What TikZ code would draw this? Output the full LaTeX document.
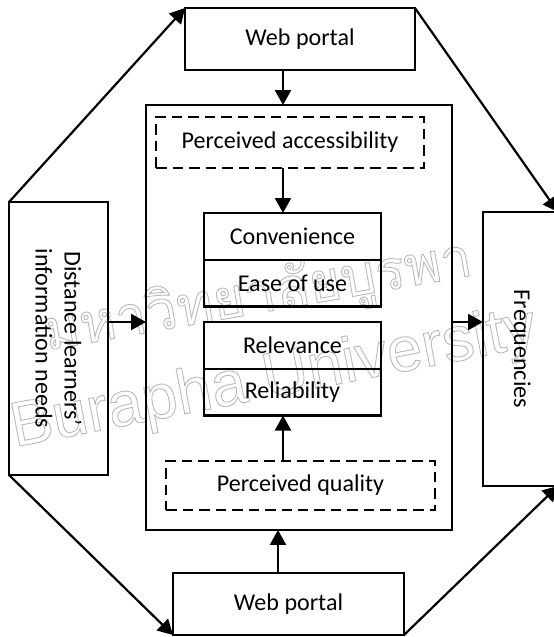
\documentclass[tikz,border=0pt]{standalone}
\usepackage{fontspec}
\setmainfont{Carlito}
\newfontfamily\thaifont[Script=Thai]{Loma}
\newfontfamily\markfont{Liberation Sans}
\usetikzlibrary{arrows.meta,positioning}
\newcommand{\hollowtext}[1]{\special{pdf:literal direct 1 Tr 0.5 w}#1\special{pdf:literal direct 0 Tr}}

\begin{document}
\begin{tikzpicture}[
    x=0.02cm, y=-0.02cm,
    box/.style={rectangle, draw, line width=1.25pt, inner sep=0pt, outer sep=0pt, font=\fontsize{13.7}{18.5}\selectfont},
    dashbox/.style={box, dash pattern=on 0.21cm off 0.12cm},
    factor/.style={box, minimum width=3.54cm, minimum height=0.935cm},
    arrow/.style={-{Triangle[length=0.3cm, width=0.32cm]}, line width=1.25pt},
    stamp/.style={text=black!28, inner sep=0pt}
  ]
    \useasboundingbox (0,0) rectangle (554,637);

    % Watermark
    \node[stamp, font=\thaifont\fontsize{31.5}{31.5}\selectfont, rotate=10] (thaimark) at (258,298) {\hollowtext{มหาวิทยาลัยบูรพา}};
    \node[stamp, font=\markfont\fontsize{36}{36}\selectfont, rotate=11] (engmark) at (274,380) {\hollowtext{Burapha University}};

    % Web portals
    \node[box, minimum width=4.6cm, minimum height=1.24cm] (webtop) at (300,39) {Web portal};
    \node[box, minimum width=4.62cm, minimum height=1.24cm] (webbot) at (288.5,604) {Web portal};

    % Central block
    \node[box, minimum width=6.12cm, minimum height=8.5cm] (core) at (299,317.5) {};
    \node[dashbox, minimum width=5.36cm, minimum height=1.02cm] (access) at (290,142.5) {Perceived accessibility};
    \node[factor] (conv) at (292.5,236.4) {Convenience};
    \node[factor, below=0pt of conv] (ease) {Ease of use};
    \node[factor] (rel) at (292.5,345.4) {Relevance};
    \node[factor, below=0pt of rel] (reli) {Reliability};
    \node[dashbox, minimum width=5.38cm, minimum height=0.98cm] (quality) at (300.5,485.5) {Perceived quality};

    % Side blocks
    \node[box, minimum width=1.98cm, minimum height=5.46cm,
      label={[rotate=-90, align=center, font=\fontsize{13.7}{16.5}\selectfont]center:Distance learners’\\information needs}] (needs) at (58.5,338.5) {};
    \node[box, minimum width=1.5cm, minimum height=5.48cm,
      label={[rotate=-90, font=\fontsize{13.7}{16.5}\selectfont]center:Frequencies}] (freq) at (520.5,349) {};

    % Arrows
    \coordinate (axis) at (283,0);
    \coordinate (axisb) at (278,0);
    \coordinate (mid) at (0,322);
    \draw[arrow] (webtop.south -| axis) -- (core.north -| axis);
    \draw[arrow] (access.south -| axis) -- (conv.north -| axis);
    \draw[arrow] (quality.north -| axis) -- (reli.south -| axis);
    \draw[arrow] (webbot.north -| axisb) -- (core.south -| axisb);
    \draw[arrow] (needs.east |- mid) -- (core.west |- mid);
    \draw[arrow] (core.east |- mid) -- (freq.west |- mid);
    \draw[arrow] (needs.north west) -- (webtop.north west);
    \draw[arrow] (webtop.north east) -- (freq.north east);
    \draw[arrow] (needs.south west) -- (webbot.south west);
    \draw[arrow] (webbot.south east) -- (freq.south east);

  \end{tikzpicture}
\end{document}
